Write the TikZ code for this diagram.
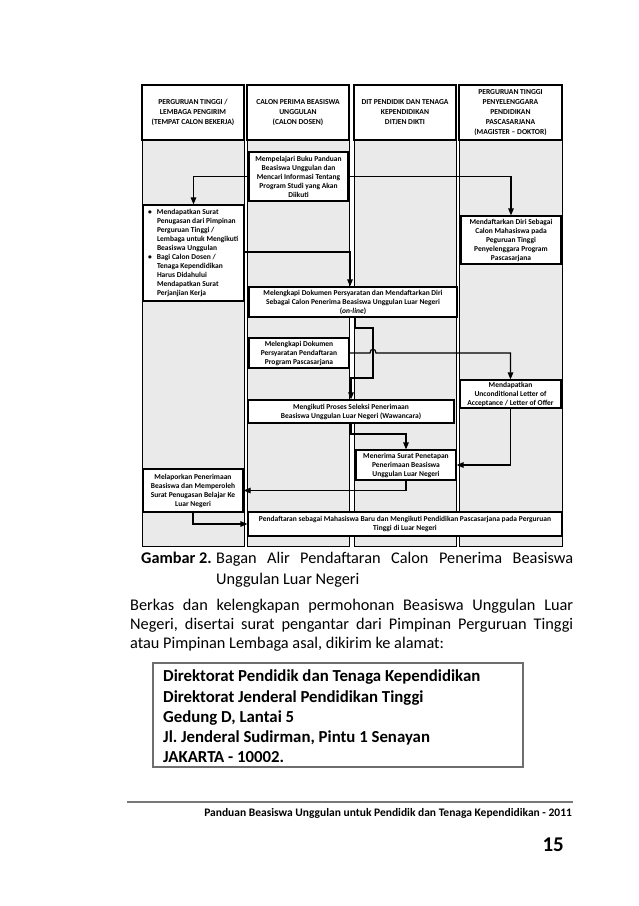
\documentclass[tikz,border=0pt]{standalone}
\usepackage{fontspec}
\setmainfont{Carlito}
\usetikzlibrary{arrows.meta}
\definecolor{lanegray}{RGB}{234,234,234}
\definecolor{rulegray}{RGB}{120,120,120}
\definecolor{addrgray}{RGB}{110,110,110}
\frenchspacing
\begin{document}
\begin{tikzpicture}[x=1pt,y=-1pt,
  lane/.style={draw=black, fill=lanegray, line width=0.9pt},
  hdr/.style={draw=black, fill=white, line width=1.1pt, align=center, font=\fontsize{7.6}{10}\selectfont\bfseries, inner sep=0pt},
  box/.style={draw=black, fill=white, line width=1.2pt, align=center, font=\fontsize{7.5}{9}\selectfont\bfseries, inner sep=0pt},
  arr/.style={line width=1.2pt, -{Triangle[length=7pt,width=5.5pt]}},
  body/.style={anchor=base west, inner sep=0pt, font=\fontsize{16.3}{19}\selectfont},
  addr/.style={anchor=base west, inner sep=0pt, font=\fontsize{16.8}{20}\selectfont\bfseries},
]
\fill[white] (0,0) rectangle (638,906);
\useasboundingbox (0,0) rectangle (638,906);

% lanes
\draw[lane] (142,85) rectangle (244,546);
\draw[lane] (247,85) rectangle (349,546);
\draw[lane] (354,85) rectangle (456,546);
\draw[lane] (459,85) rectangle (562,546);

% headers
\node[hdr, minimum width=102, minimum height=55] (h1) at (193,112.5) {PERGURUAN TINGGI /\\LEMBAGA PENGIRIM\\(TEMPAT CALON BEKERJA)};
\node[hdr, minimum width=102, minimum height=55] (h2) at (298,112.5) {CALON PERIMA BEASISWA\\UNGGULAN\\(CALON DOSEN)};
\node[hdr, minimum width=102, minimum height=55] (h3) at (405,112.5) {DIT PENDIDIK DAN TENAGA\\KEPENDIDIKAN\\DITJEN DIKTI};
\node[hdr, minimum width=103, minimum height=55] (h4) at (510.5,112.5) {PERGURUAN TINGGI\\PENYELENGGARA\\PENDIDIKAN\\PASCASARJANA\\(MAGISTER -- DOKTOR)};

% boxes
\node[box, minimum width=99, minimum height=49] (b1) at (298.5,176.5) {Mempelajari Buku Panduan\\Beasiswa Unggulan dan\\Mencari Informasi Tentang\\Program Studi yang Akan\\Diikuti};
\node[box, minimum width=101, minimum height=96, align=left] (b2) at (193.5,253) {%
\makebox[97pt][l]{\hspace*{3pt}\begin{tabular}{@{}p{9pt}@{}l@{}}
\textbullet & Mendapatkan Surat\\
 & Penugasan dari Pimpinan\\
 & Perguruan Tinggi /\\
 & Lembaga untuk Mengikuti\\
 & Beasiswa Unggulan\\
\textbullet & Bagi Calon Dosen /\\
 & Tenaga Kependidikan\\
 & Harus Didahului\\
 & Mendapatkan Surat\\
 & Perjanjian Kerja
\end{tabular}}};
\node[box, minimum width=100, minimum height=48] (b3) at (511,240) {Mendaftarkan Diri Sebagai\\Calon Mahasiswa pada\\Peguruan Tinggi\\Penyelenggara Program\\Pascasarjana};
\node[box, minimum width=208, minimum height=30] (b4) at (353,302) {Melengkapi Dokumen Persyaratan dan Mendaftarkan Diri\\Sebagai Calon Penerima Beasiswa Unggulan Luar Negeri\\(\textit{on-line})};
\node[box, minimum width=100, minimum height=30] (b5) at (299,353) {Melengkapi Dokumen\\Persyaratan Pendaftaran\\Program Pascasarjana};
\node[box, minimum width=101, minimum height=28] (b6) at (510.5,394) {Mendapatkan\\Unconditional Letter of\\Acceptance / Letter of Offer};
\node[box, minimum width=206, minimum height=23] (b7) at (351,411.5) {Mengikuti Proses Seleksi Penerimaan\\Beasiswa Unggulan Luar Negeri (Wawancara)};
\node[box, minimum width=100, minimum height=30] (b8) at (406,465) {Menerima Surat Penetapan\\Penerimaan Beasiswa\\Unggulan Luar Negeri};
\node[box, minimum width=100, minimum height=43] (b9) at (193,490.5) {Melaporkan Penerimaan\\Beasiswa dan Memperoleh\\Surat Penugasan Belajar Ke\\Luar Negeri};
\node[box, minimum width=314, minimum height=24] (b10) at (405,524) {Pendaftaran sebagai Mahasiswa Baru dan Mengikuti Pendidikan Pascasarjana pada Perguruan\\Tinggi di Luar Negeri};

% connectors
\draw[arr] (b1.west) -| (b2.north);
\draw[arr] (b1.east) -| (b3.north);
\draw[arr] (b2.east |- 0,252) -| ([xshift=-3pt]b4.north);
\draw[arr] ([xshift=2pt]b4.south) |- (373,328) |- (351,378) -- (b7.north);
\draw[arr] (b5.east) -- (370,353) .. controls (370,348) and (376,348) .. (376,353) -| (b6.north);
\draw[arr] (b6.south) |- (b8.east);
\draw[arr] (b7.south) |- (406,434) -- (b8.north);
\draw[arr] (b8.south) |- (b9.east);
\draw[arr] (b9.south) |- (b10.west);

% caption
\node[body] (cap1) at (141,563) {\textbf{Gambar 2.}};
\node[body] (cap2) at (216,563) {\makebox[357pt][s]{Bagan Alir Pendaftaran Calon Penerima Beasiswa}};
\node[body] (cap3) at (216,584) {Unggulan Luar Negeri};

% body text
\node[body] (t1) at (130,610) {\makebox[443pt][s]{Berkas dan kelengkapan permohonan Beasiswa Unggulan Luar}};
\node[body] (t2) at (130,629) {\makebox[443pt][s]{Negeri, disertai surat pengantar dari Pimpinan Perguruan Tinggi}};
\node[body] (t3) at (130,648) {atau Pimpinan Lembaga asal, dikirim ke alamat:};

% address box
\draw[addrgray, line width=1.5pt] (153,663) rectangle (523,767);
\node[addr] (a1) at (163,681) {Direktorat Pendidik dan Tenaga Kependidikan};
\node[addr] (a2) at (163,702) {Direktorat Jenderal Pendidikan Tinggi};
\node[addr] (a3) at (163,722) {Gedung D, Lantai 5};
\node[addr] (a4) at (163,742) {Jl. Jenderal Sudirman, Pintu 1 Senayan};
\node[addr] (a5) at (163,762) {JAKARTA - 10002.};

% footer
\draw[rulegray, line width=2.5pt] (127,802) -- (573,802);
\node[anchor=base east, inner sep=0pt, font=\fontsize{11.5}{13}\selectfont\bfseries] (foot) at (572,816) {Panduan Beasiswa Unggulan untuk Pendidik dan Tenaga Kependidikan - 2011};
\node[anchor=base east, inner sep=0pt, font=\fontsize{21}{24}\selectfont\bfseries] (pg) at (564,851) {15};
\end{tikzpicture}
\end{document}
